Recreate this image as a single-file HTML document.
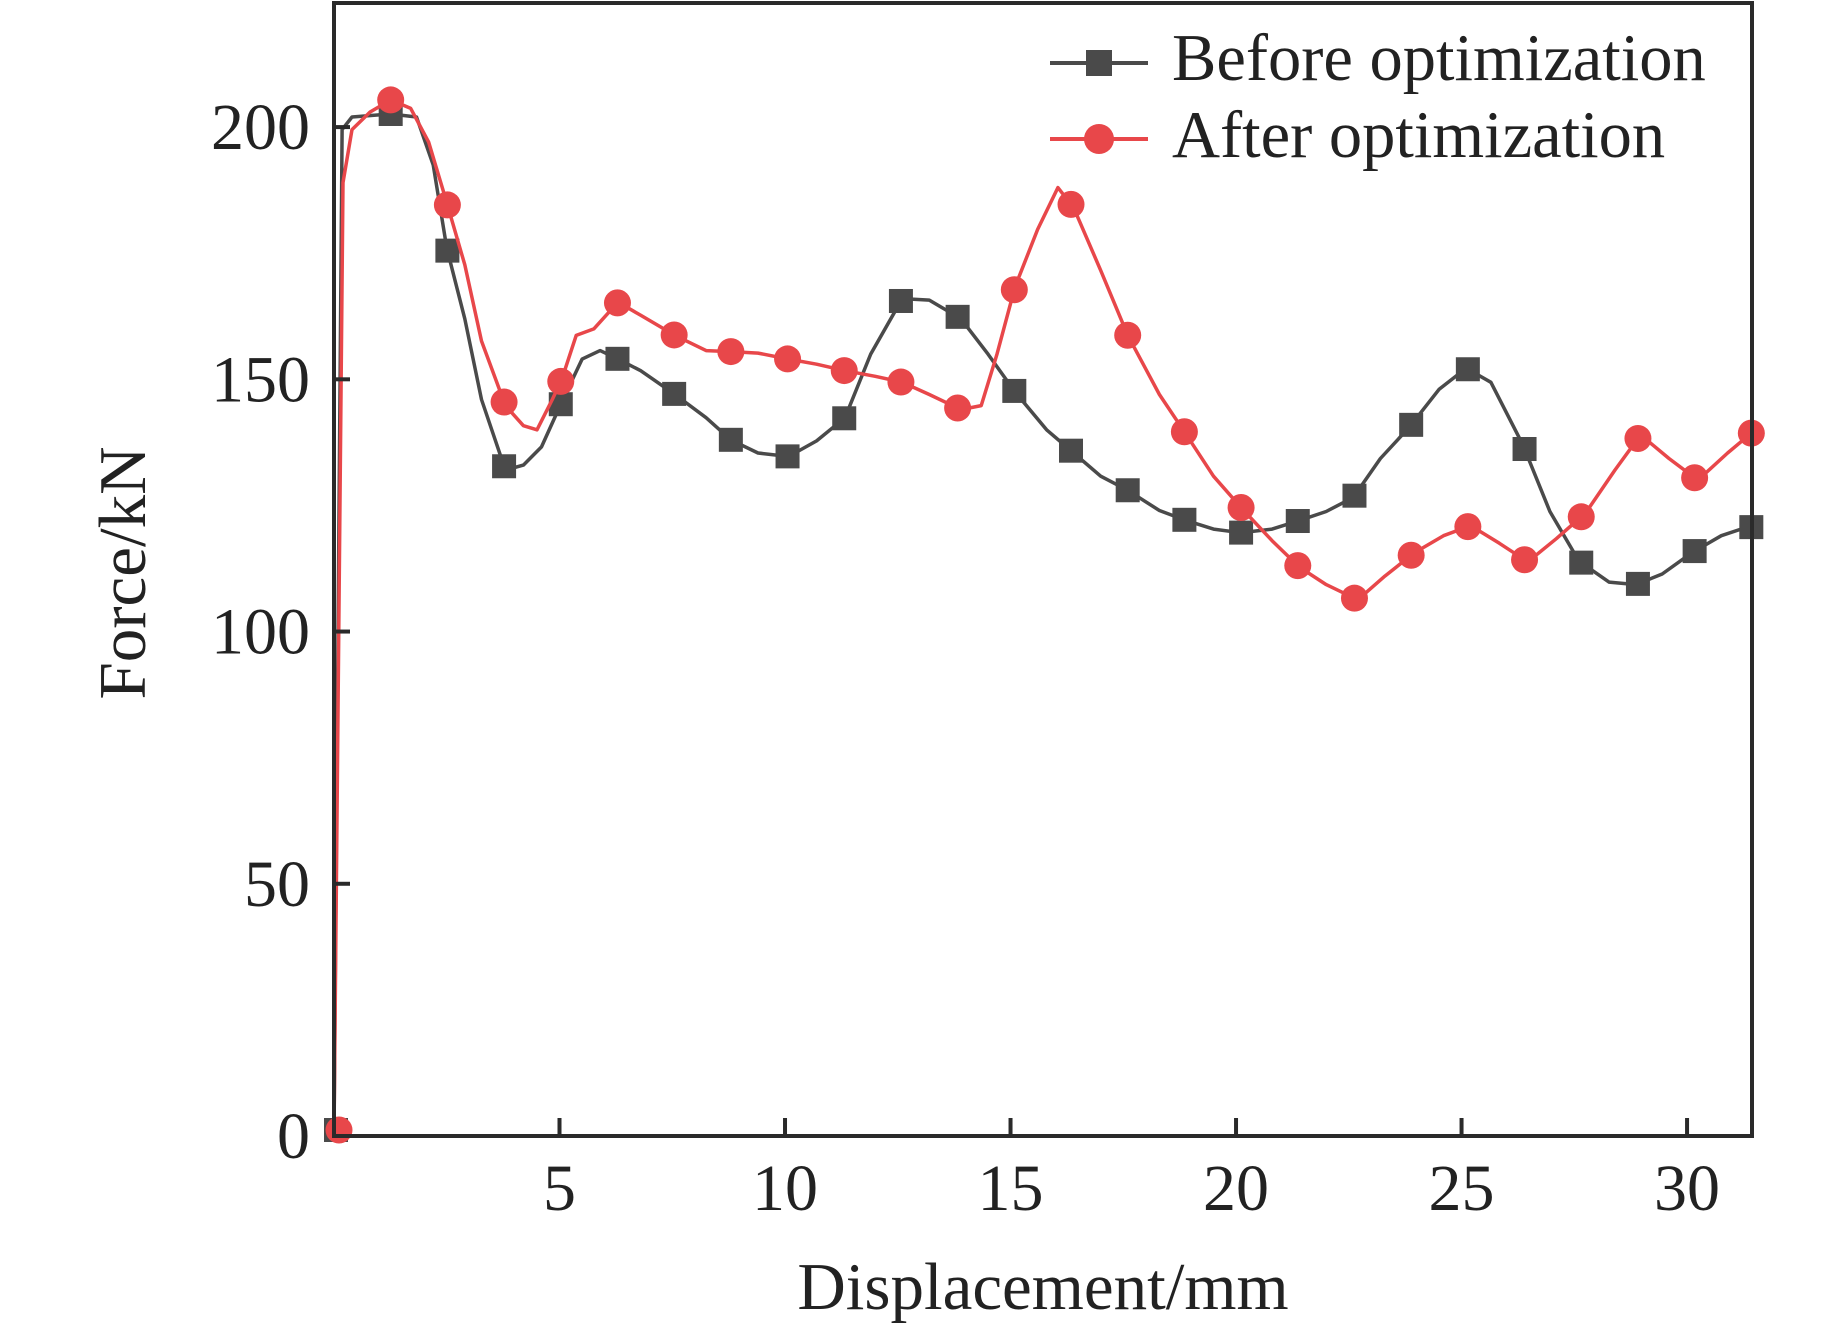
<!DOCTYPE html>
<html><head><meta charset="utf-8"><style>
html,body{margin:0;padding:0;background:#fff;}
svg{display:block;font-family:"Liberation Serif",serif;}
</style></head><body>
<svg id="chart" width="1843" height="1330" viewBox="0 0 1843 1330" xmlns="http://www.w3.org/2000/svg">
<g id="plot"></g>
<g id="axes"></g>
<text x="1043" y="1309" font-size="67" text-anchor="middle" fill="#222">Displacement/mm</text>
<text x="0" y="0" font-size="67" text-anchor="middle" fill="#222" transform="translate(145,573) rotate(-90)">Force/kN</text>
<g>
<g>
<line x1="1050" y1="63" x2="1148" y2="63" stroke="#4a4a4a" stroke-width="4"/>
<rect x="1086" y="50" width="26" height="26" fill="#4a4a4a"/>
<text x="1172" y="80" font-size="66.5" fill="#222">Before optimization</text>
</g>
<g>
<line x1="1050" y1="139" x2="1148" y2="139" stroke="#e8474a" stroke-width="4"/>
<circle cx="1099" cy="139" r="15" fill="#e8474a"/>
<text x="1172" y="157" font-size="66.5" fill="#222">After optimization</text>
</g>
</g>
</svg>
<script>
const xTicks=[5,10,15,20,25,30];
const yTicks=[0,50,100,150,200];
const beforeX=[0,0.18,0.4,1.26,1.83,2.2,2.5,2.9,3.27,3.8,4.2,4.6,5.05,5.5,5.9,6.3,6.8,7.56,8.25,8.8,9.4,10.08,10.7,11.33,11.9,12.6,13.2,13.9,14.5,15.1,15.8,16.4,17,17.6,18.3,18.9,19.5,20.1,20.8,21.4,22,22.6,23.2,23.85,24.5,25.1,25.65,26.36,26.96,27.6,28.27,28.87,29.45,30.1,30.76,31.33,31.5];
const beforeY=[0,199.5,202,202.6,202,192.5,176,162,146,132,133,136.6,145.5,154,155.7,154,151.7,147,142.4,138,135.4,134.7,137.8,142.4,155,166,165.7,162,155,147.5,140,135.4,130.8,128,124,122,120.3,119.6,120.3,122,123.8,126.6,134.3,140.6,148,152.2,149.4,137,123.8,114,109.8,109.3,111.4,115.6,119,120.7,120.7];
const afterX=[0,0.2,0.4,0.8,1.26,1.7,2.1,2.5,2.9,3.27,3.8,4.2,4.5,4.84,5.05,5.37,5.76,6.3,6.8,7.56,8.25,8.8,9.4,10.08,10.7,11.33,12,12.6,13.2,13.9,14.35,14.7,15.1,15.6,16.05,16.4,17,17.6,18.3,18.9,19.5,20.15,20.8,21.4,22,22.7,23.3,23.95,24.6,25.2,25.84,26.47,27.1,27.75,28.4,28.97,29.6,30.24,30.9,31.5];
const afterY=[0,189,199.5,203,205.4,203.7,197,185,172.7,157.6,144.8,140.8,140,146,150,158.7,160,165.3,162.7,158.7,155.7,155.5,155.2,154,153,151.7,150.6,149.4,147,144,144.8,155,168.3,179.7,188,184,171.6,158.7,147,139,130.8,124.2,118,112.8,109.3,106.3,111,115.6,119,121,117.5,113.8,118.4,123.5,132,139,134.3,130,135.4,139.9];
const markerStep=1.257;

const X0=334,X1=1752,Y0=1136,Y1=3,XMAX=31.44,YMAX=224.6;
const sx=v=>X0+v/XMAX*(X1-X0);
const sy=v=>Y0-v/YMAX*(Y0-Y1);
const NS='http://www.w3.org/2000/svg';
function mk(tag,attrs,parent){const e=document.createElementNS(NS,tag);for(const k in attrs)e.setAttribute(k,attrs[k]);parent.appendChild(e);return e;}
function interp(xs,ys,x){for(let i=1;i<xs.length;i++){if(x<=xs[i]){const t=(x-xs[i-1])/(xs[i]-xs[i-1]||1);return ys[i-1]+t*(ys[i]-ys[i-1]);}}return ys[ys.length-1];}
const plot=document.getElementById('plot'),axes=document.getElementById('axes');

function series(xs,ys,color,shape,name){
  const g=mk('g',{},plot);
  
  
  const d=xs.map((x,i)=>(i?'L':'M')+sx(x).toFixed(1)+','+sy(ys[i]).toFixed(1)).join('');
  const p=mk('path',{d:d,fill:'none',stroke:color,'stroke-width':3.5,'stroke-linejoin':'round'},g);
  
  
  for(let k=0;k*markerStep<=xs[xs.length-1]+0.01;k++){
    const x=k*markerStep;
    const y=interp(xs,ys,x);
    const cx=k===0?sx(x)+(shape==='circle'?5:2):sx(x);
    const cy=k===0?sy(y)-6:sy(y);
    let m;
    if(shape==='square') m=mk('rect',{x:cx-12,y:cy-12,width:24,height:24,fill:color},g);
    else m=mk('circle',{cx:cx,cy:cy,r:13.5,fill:color},g);
    
    
  }
}
series(beforeX,beforeY,'#4a4a4a','square','before');
series(afterX,afterY,'#e8474a','circle','after');

const frame=mk('rect',{x:X0,y:Y1,width:X1-X0,height:Y0-Y1,fill:'none',stroke:'#2a2a2a','stroke-width':4},axes);


xTicks.forEach(v=>{
  const t=mk('line',{x1:sx(v),y1:Y0,x2:sx(v),y2:Y0-18,stroke:'#2a2a2a','stroke-width':4},axes);
  
  
  const l=mk('text',{x:sx(v),y:1210,'font-size':66,'text-anchor':'middle',fill:'#222'},axes);
  l.textContent=v;
  
  
});
yTicks.forEach(v=>{
  const t=mk('line',{x1:X0,y1:sy(v),x2:X0+16,y2:sy(v),stroke:'#2a2a2a','stroke-width':4},axes);
  
  
  const l=mk('text',{x:310,y:sy(v)+22,'font-size':66,'text-anchor':'end',fill:'#222'},axes);
  l.textContent=v;
  
  
});
</script>
</body></html>
